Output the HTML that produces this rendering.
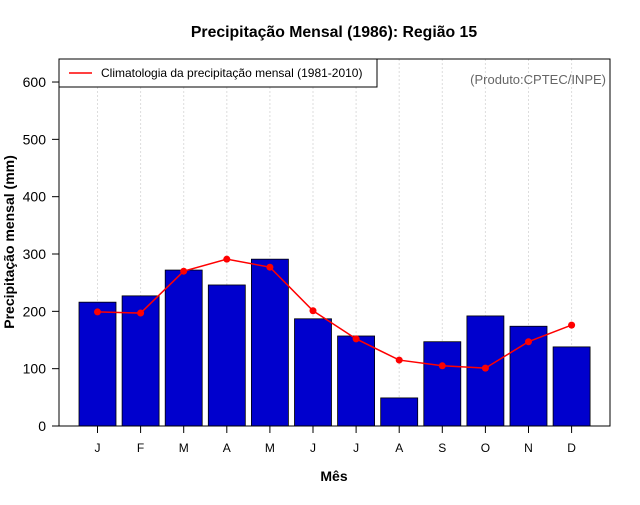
<!DOCTYPE html>
<html><head><meta charset="utf-8"><style>
body{margin:0;background:#fff;width:640px;height:500px;overflow:hidden}
svg text{font-family:"Liberation Sans",sans-serif}
</style></head><body>
<svg id="c" width="640" height="500">
<text x="334" y="37" text-anchor="middle" font-size="15.8" font-weight="bold">Precipitação Mensal (1986): Região 15</text>
<text x="334" y="481" text-anchor="middle" font-size="14" font-weight="bold">Mês</text>
<text transform="translate(14,242) rotate(-90)" text-anchor="middle" font-size="14" font-weight="bold">Precipitação mensal (mm)</text>
<g id="grid"></g><g id="bars"></g><g id="line"></g><g id="axes"></g>
<rect x="59" y="59" width="551" height="367" fill="none" stroke="#000"/>
<g>
<rect x="59" y="59" width="318" height="28" fill="#fff" stroke="#000" stroke-width="1"/>
<line x1="69" y1="73" x2="92" y2="73" stroke="red" stroke-width="1.5"/>
<text x="101" y="77" font-size="12">Climatologia da precipitação mensal (1981-2010)</text>
</g>
<text x="606" y="84" text-anchor="end" font-size="13" fill="#666">(Produto:CPTEC/INPE)</text>
</svg>
<script>
const months=["J","F","M","A","M","J","J","A","S","O","N","D"];
const precip=[216,227,272,246,291,187,157,49,147,192,174,138];
const clim=[199,197,270,291,277,201,152,115,105,101,147,176];
const yTicks=[0,100,200,300,400,500,600];
const NS="http://www.w3.org/2000/svg";
const x=i=>97.5+i*43.1;
const y=v=>426-v*0.5733;
function mk(t,a,p){const e=document.createElementNS(NS,t);for(const k in a)e.setAttribute(k,a[k]);p.appendChild(e);return e;}
const g=document.getElementById('grid'),b=document.getElementById('bars'),l=document.getElementById('line'),ax=document.getElementById('axes');
months.forEach((m,i)=>{
 const gl=mk('line',{x1:x(i),x2:x(i),y1:59,y2:426,stroke:'#ddd','stroke-dasharray':'2,2'},g);
 
 
 const r=mk('rect',{x:x(i)-18.5,y:y(precip[i]),width:37,height:426-y(precip[i]),fill:'#0000cd',stroke:'#000','stroke-width':0.8},b);
 
 
 const t=mk('line',{x1:x(i),x2:x(i),y1:426,y2:433,stroke:'#000'},ax);
 
 
 const tx=mk('text',{x:x(i),y:452,'text-anchor':'middle','font-size':12},ax);
 tx.textContent=m;
 
 
});
const pl=mk('polyline',{points:clim.map((v,i)=>x(i)+','+y(v)).join(' '),fill:'none',stroke:'red','stroke-width':1.5},l);


clim.forEach((v,i)=>{
 const c=mk('circle',{cx:x(i),cy:y(v),r:3.5,fill:'red'},l);
 
 
});
yTicks.forEach(v=>{
 const t=mk('line',{x1:52,x2:59,y1:y(v),y2:y(v),stroke:'#000'},ax);
 
 
 const tx=mk('text',{x:46,y:y(v)+5,'text-anchor':'end','font-size':14},ax);
 tx.textContent=v;
 
 
});
</script>
</body></html>
